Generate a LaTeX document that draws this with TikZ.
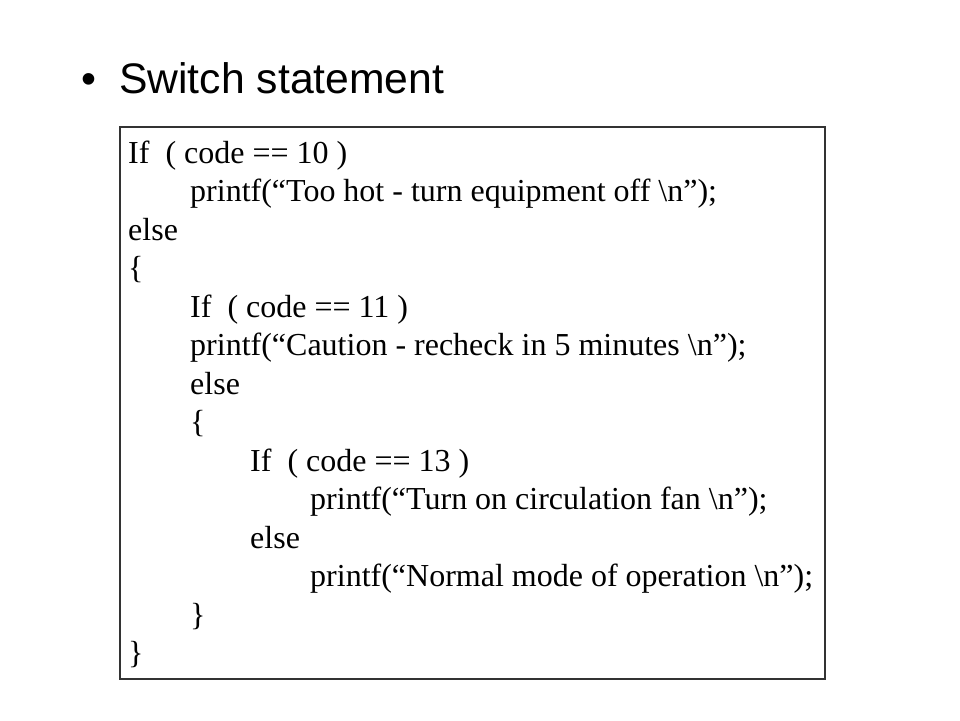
\documentclass[tikz,border=0pt]{standalone}
\usepackage{fontspec}
\setmainfont{Liberation Serif}
\newfontfamily\titlefont{Liberation Sans}
\usetikzlibrary{positioning}

\begin{document}
\begin{tikzpicture}[x=1pt,y=-1pt,
	code/.style={anchor=base west,inner sep=0pt,font=\fontsize{32}{38}\selectfont},
	title/.style={anchor=base west,inner sep=0pt,font=\titlefont\fontsize{42.7}{50}\selectfont}]
\useasboundingbox (0,0) rectangle (960,720);
\node [title] (bullet) at (81,93) {•};
\node [title] (head) at (119,93) {Switch statement};
\draw [line width=1.2pt,black!80] (120,127) rectangle (825,679);
\node [code] (if1) at (128,163) {If\ \ ( code == 10 )};
\node [code] (hot) at (190,201.5) {printf(“Too hot - turn equipment off \textbackslash n”);};
\node [code] (else1) at (128,240) {else};
\node [code] (ob1) at (128,278.5) {\{};
\node [code] (if2) at (190,317) {If\ \ ( code == 11 )};
\node [code] (caution) at (190,355.5) {printf(“Caution - recheck in 5 minutes \textbackslash n”);};
\node [code] (else2) at (190,394) {else};
\node [code] (ob2) at (190,432.5) {\{};
\node [code] (if3) at (250,471) {If\ \ ( code == 13 )};
\node [code] (fan) at (310,509.5) {printf(“Turn on circulation fan \textbackslash n”);};
\node [code] (else3) at (250,548) {else};
\node [code] (normal) at (310,586.5) {printf(“Normal mode of operation \textbackslash n”);};
\node [code] (cb2) at (190,625) {\}};
\node [code] (cb1) at (128,663.5) {\}};
\end{tikzpicture}
\end{document}
